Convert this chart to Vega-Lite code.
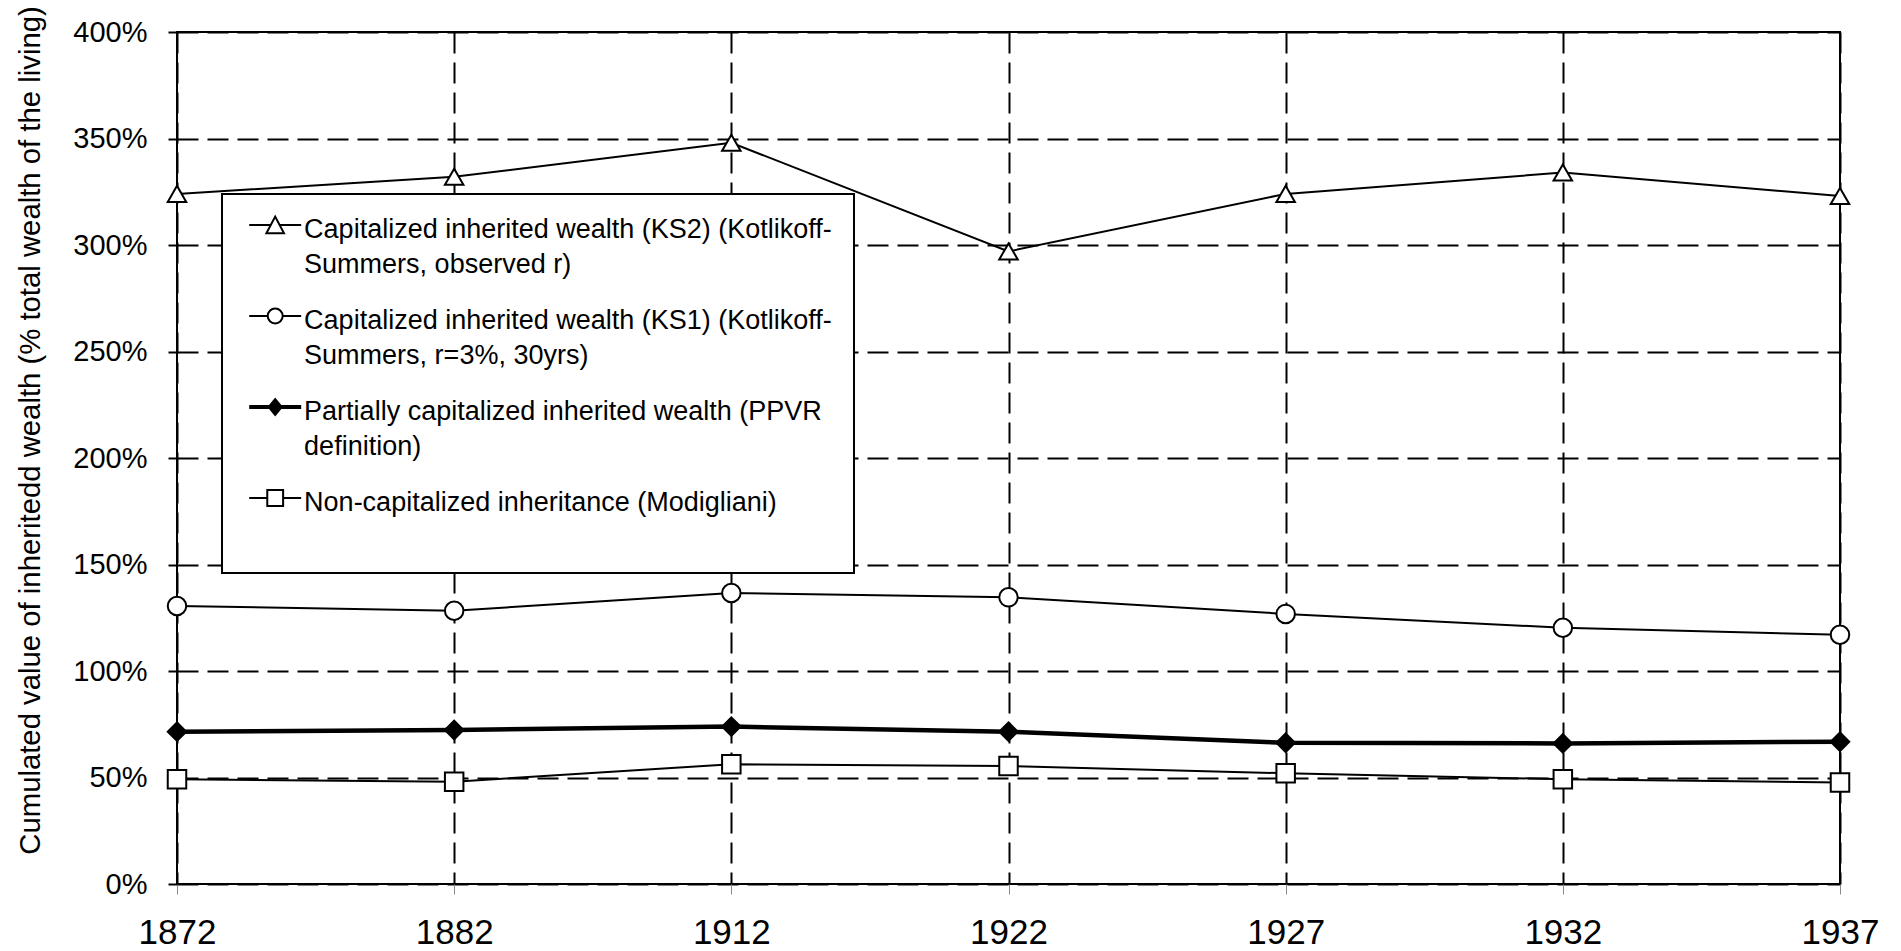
{
  "$schema": "https://vega.github.io/schema/vega-lite/v6.json",
  "width": 1663,
  "height": 852,
  "autosize": {"type": "none"},
  "padding": {"left": 177, "top": 32, "right": 61, "bottom": 67},
  "background": "white",
  "config": {
    "view": {"stroke": "black", "strokeWidth": 2},
    "font": "Liberation Sans",
    "style": {"guide-label": {"lineHeight": 35}},
    "legend": {"strokeWidth": 2},
    "axis": {
      "labelFont": "Liberation Sans",
      "labelColor": "black",
      "titleFont": "Liberation Sans",
      "titleColor": "black",
      "titleFontWeight": "normal",
      "grid": true,
      "gridColor": "black",
      "gridDash": [21, 9],
      "gridWidth": 2,
      "gridOpacity": 1,
      "domain": false
    }
  },
  "data": {
    "values": [
      {"year": "1872", "series": "KS2", "value": 3.24},
      {"year": "1882", "series": "KS2", "value": 3.32},
      {"year": "1912", "series": "KS2", "value": 3.48},
      {"year": "1922", "series": "KS2", "value": 2.97},
      {"year": "1927", "series": "KS2", "value": 3.24},
      {"year": "1932", "series": "KS2", "value": 3.34},
      {"year": "1937", "series": "KS2", "value": 3.23},
      {"year": "1872", "series": "KS1", "value": 1.305},
      {"year": "1882", "series": "KS1", "value": 1.283},
      {"year": "1912", "series": "KS1", "value": 1.366},
      {"year": "1922", "series": "KS1", "value": 1.346},
      {"year": "1927", "series": "KS1", "value": 1.268},
      {"year": "1932", "series": "KS1", "value": 1.203},
      {"year": "1937", "series": "KS1", "value": 1.17},
      {"year": "1872", "series": "PPVR", "value": 0.715},
      {"year": "1882", "series": "PPVR", "value": 0.723},
      {"year": "1912", "series": "PPVR", "value": 0.739},
      {"year": "1922", "series": "PPVR", "value": 0.715},
      {"year": "1927", "series": "PPVR", "value": 0.663},
      {"year": "1932", "series": "PPVR", "value": 0.66},
      {"year": "1937", "series": "PPVR", "value": 0.668},
      {"year": "1872", "series": "MOD", "value": 0.492},
      {"year": "1882", "series": "MOD", "value": 0.48},
      {"year": "1912", "series": "MOD", "value": 0.562},
      {"year": "1922", "series": "MOD", "value": 0.554},
      {"year": "1927", "series": "MOD", "value": 0.52},
      {"year": "1932", "series": "MOD", "value": 0.492},
      {"year": "1937", "series": "MOD", "value": 0.477}
    ]
  },
  "encoding": {
    "x": {
      "field": "year",
      "type": "ordinal",
      "sort": null,
      "scale": {"type": "point", "padding": 0},
      "axis": {
        "title": null,
        "labelAngle": 0,
        "labelFontSize": 35,
        "labelPadding": 21,
        "tickSize": 10,
        "tickColor": "#888888",
        "tickWidth": 1
      }
    },
    "y": {
      "field": "value",
      "type": "quantitative",
      "scale": {"domain": [0, 4], "nice": false},
      "axis": {
        "title": "Cumulated value of inheritedd wealth (% total wealth of the living)",
        "titleFontSize": 29.3,
        "titlePadding": 27,
        "titleY": 398,
        "values": [0, 0.5, 1, 1.5, 2, 2.5, 3, 3.5, 4],
        "format": ".0%",
        "labelFontSize": 29,
        "labelPadding": 21,
        "tickSize": 9,
        "tickColor": "black",
        "tickWidth": 2
      }
    }
  },
  "layer": [
    {
      "mark": {"type": "line", "color": "black"},
      "encoding": {
        "detail": {"field": "series"},
        "strokeWidth": {
          "condition": {"test": "datum.series === 'PPVR'", "value": 4.5},
          "value": 2
        }
      }
    },
    {
      "mark": {"type": "point", "filled": true, "stroke": "black", "strokeWidth": 2, "size": 342, "opacity": 1},
      "encoding": {
        "shape": {
          "field": "series",
          "scale": {"domain": ["KS2", "KS1", "PPVR", "MOD"], "range": ["triangle-up", "circle", "diamond", "square"]},
          "legend": null
        },
        "fill": {
          "field": "series",
          "scale": {"domain": ["KS2", "KS1", "PPVR", "MOD"], "range": ["white", "white", "black", "white"]},
          "legend": null
        }
      }
    },
    {
      "transform": [{"filter": "false"}],
      "mark": {"type": "point", "filled": false, "stroke": "black", "strokeWidth": 2, "opacity": 1},
      "encoding": {
        "shape": {
          "field": "series",
          "scale": {
            "domain": ["KS2", "KS1", "PPVR", "MOD"],
            "range": [
              "M-2.95,-0.51H-0.5M0.5,-0.51H2.95M0,-1.46L1,0.44L-1,0.44Z",
              "M-2.95,-0.51H-0.85M0.85,-0.51H2.95M0.85,-0.51A0.85,0.85,0,1,1,-0.85,-0.51A0.85,0.85,0,1,1,0.85,-0.51Z",
              "M-2.95,-0.62H-0.6M0.6,-0.62H2.95M-2.95,-0.4H-0.6M0.6,-0.4H2.95M0,-1.41L0.74,-0.51L0,0.39L-0.74,-0.51ZM0,-1.23L0.59,-0.51L0,0.21L-0.59,-0.51ZM0,-1.05L0.44,-0.51L0,0.03L-0.44,-0.51ZM0,-0.87L0.3,-0.51L0,-0.15L-0.3,-0.51ZM0,-0.69L0.15,-0.51L0,-0.33L-0.15,-0.51Z",
              "M-2.95,-0.51H-0.9M0.9,-0.51H2.95M-0.9,-1.41H0.9V0.39H-0.9Z"
            ]
          },
          "legend": {
            "orient": "none",
            "legendX": 45,
            "legendY": 162,
            "title": null,
            "labelExpr": "datum.label == 'KS2' ? ['Capitalized inherited wealth (KS2) (Kotlikoff-', 'Summers, observed r)'] : datum.label == 'KS1' ? ['Capitalized inherited wealth (KS1) (Kotlikoff-', 'Summers, r=3%, 30yrs)'] : datum.label == 'PPVR' ? ['Partially capitalized inherited wealth (PPVR', 'definition)'] : ['Non-capitalized inheritance (Modigliani)', '']",
            "labelFont": "Liberation Sans",
            "labelFontSize": 27,
            "labelColor": "black",
            "labelLimit": 0,
            "labelBaseline": "middle",
            "symbolSize": 310,
            "symbolOffset": 17.7,
            "labelOffset": 15.4,
            "symbolStrokeColor": "black",
            "symbolStrokeWidth": 2,
            "strokeColor": "black",
            "fillColor": "white",
            "padding": 22,
            "rowPadding": 26
          }
        }
      }
    }
  ],
  "resolve": {"scale": {"shape": "independent"}}
}
